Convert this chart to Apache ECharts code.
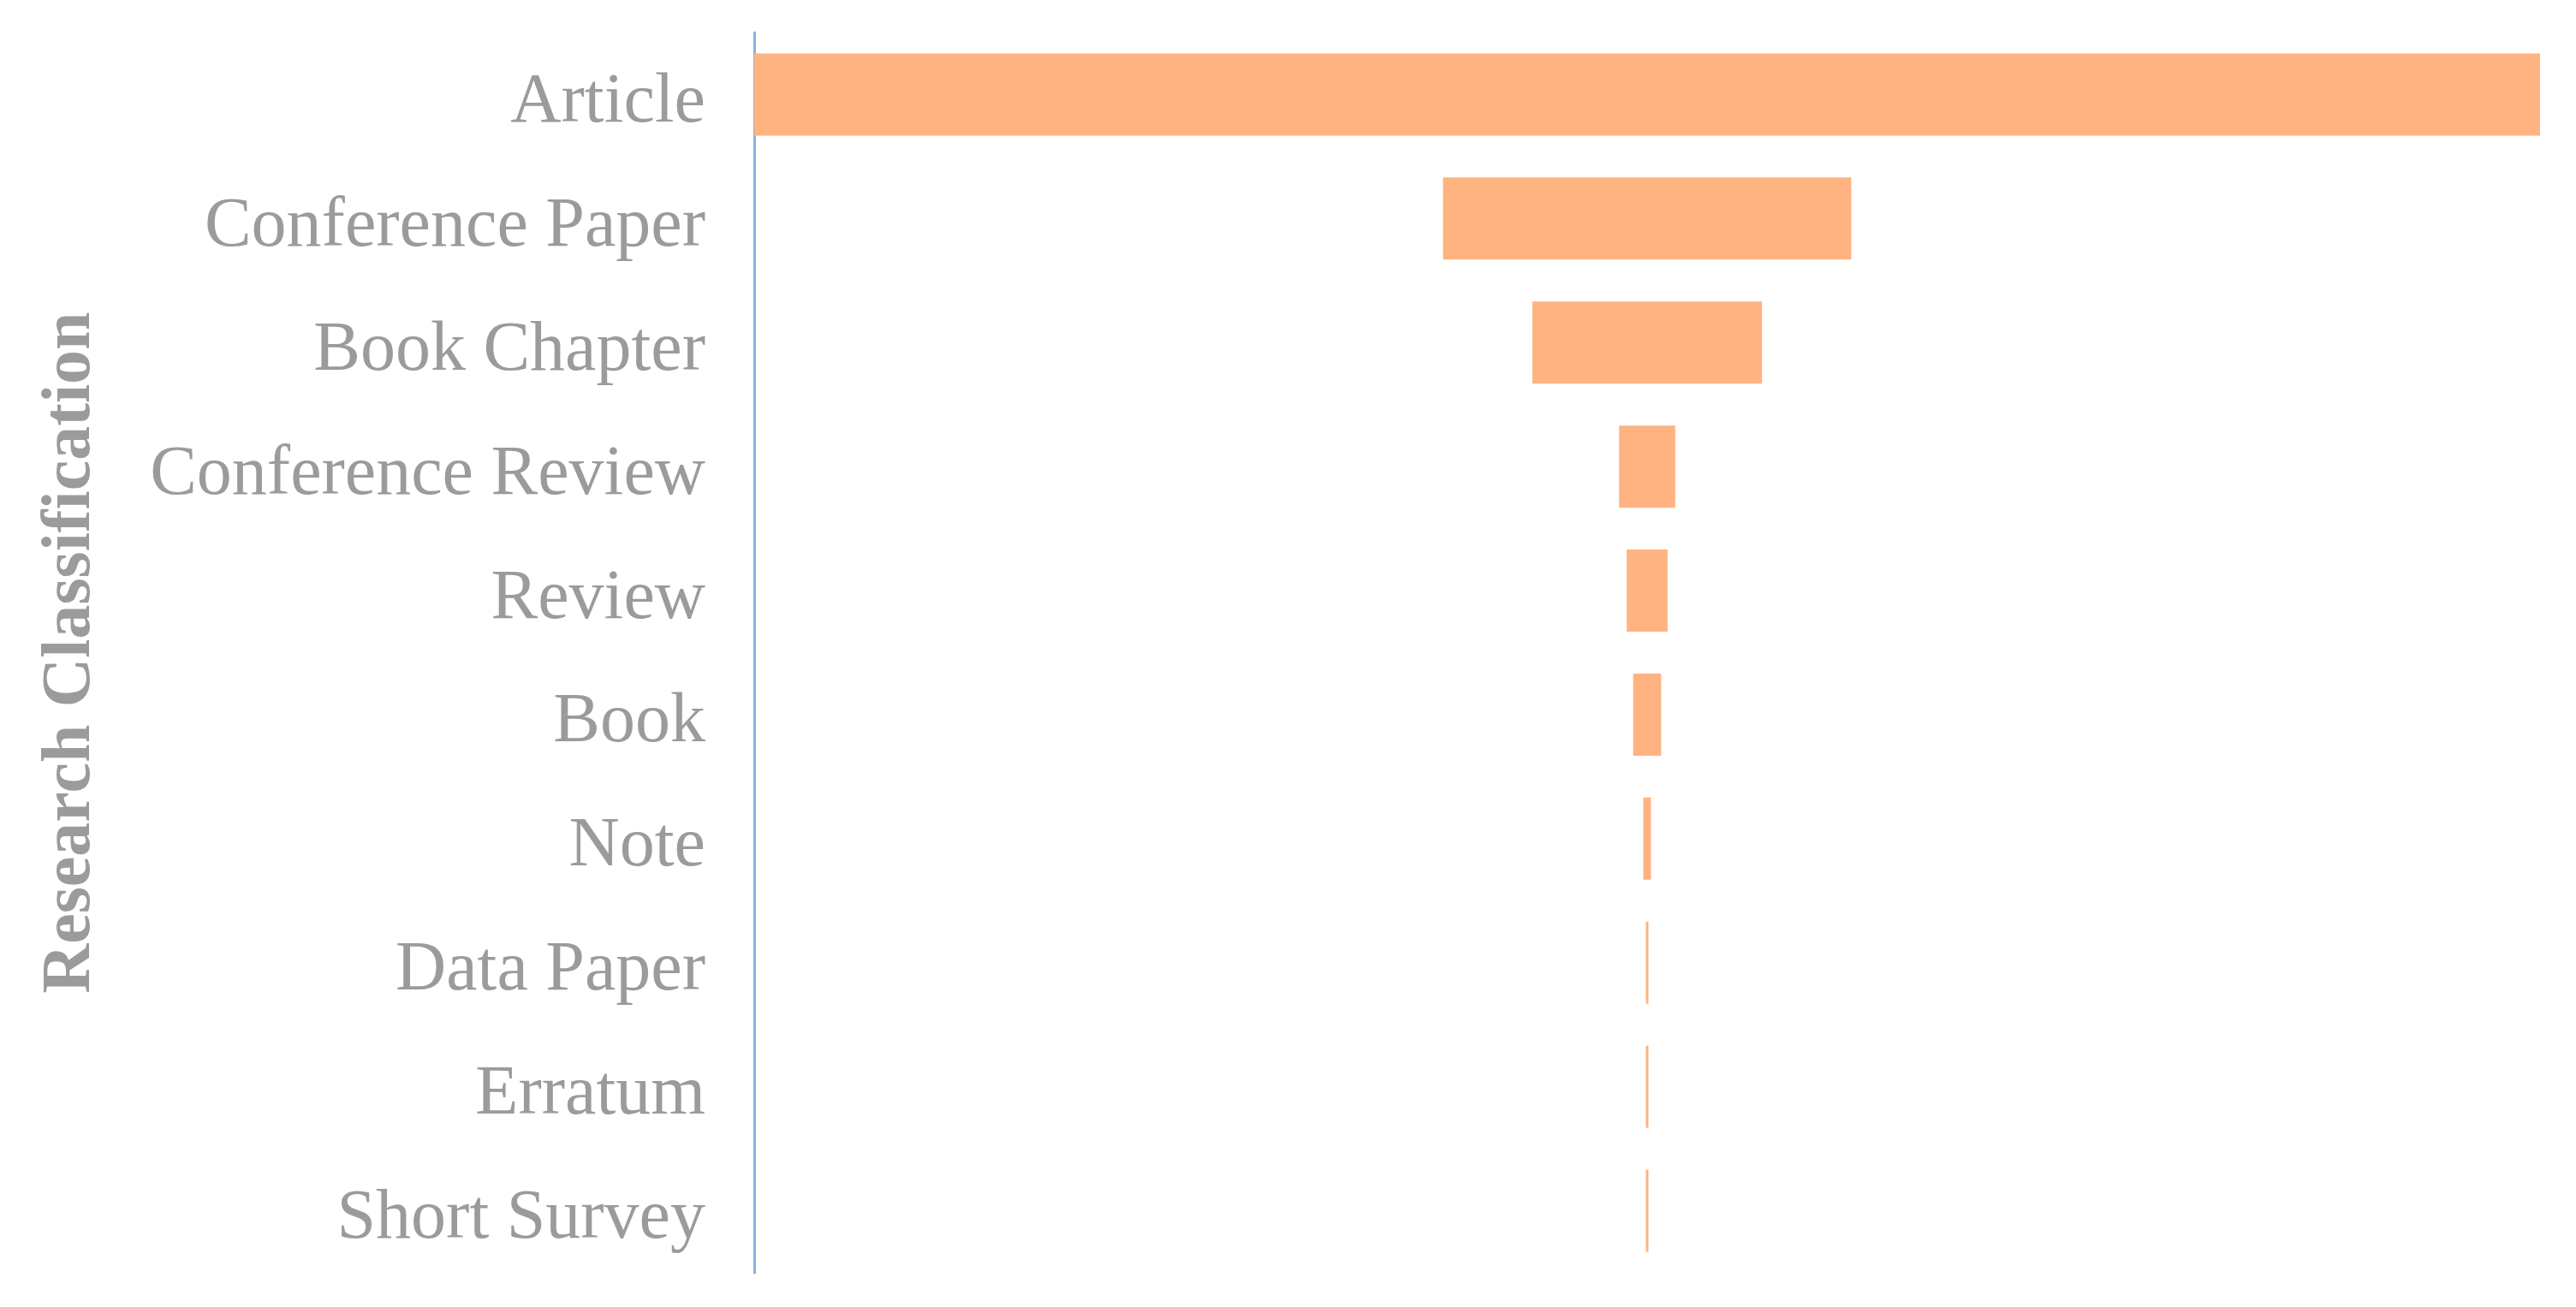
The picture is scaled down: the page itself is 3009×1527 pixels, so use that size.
<!DOCTYPE html>
<html>
<head>
<meta charset="utf-8">
<script src="https://cdn.jsdelivr.net/npm/echarts@6/dist/echarts.min.js"></script>
<style>
  html, body { margin: 0; padding: 0; background: #fff; }
  #chart { width: 3009px; height: 1527px; }
</style>
</head>
<body>
<div id="chart"></div>
<script>
// document types, top to bottom
const categories = ['Article', 'Conference Paper', 'Book Chapter', 'Conference Review', 'Review',
    'Book', 'Note', 'Data Paper', 'Erratum', 'Short Survey'];
// publication counts
const counts = [700, 160, 90, 22, 16, 11, 3, 1, 1, 1];

const barColor = '#ffb381';
const textColor = '#9b9b9b';
const fontFamily = '"Liberation Serif", "DejaVu Serif", serif';

const chart = echarts.init(document.getElementById('chart'));

// centre every bar: an invisible spacer takes half of what is left over
const maxCount = Math.max(...counts);
const spacer = counts.map(v => (maxCount - v) / 2);

chart.setOption({
    animation: false,
    grid: { left: 881, right: 42, top: 38, bottom: 40 },
    xAxis: {
        type: 'value',
        min: 0,
        max: maxCount,
        show: false
    },
    yAxis: {
        type: 'category',
        data: categories,
        inverse: true,
        axisLine: { onZero: false, lineStyle: { color: '#8ab0e2', width: 3 } },
        axisTick: { show: false },
        axisLabel: {
            margin: 57,
            formatter: v => '{l|' + v + '}',
            rich: {
                // text sits a little below the band centre in the original
                l: { color: textColor, fontSize: 82, fontFamily: fontFamily, padding: [20, 0, 0, 0] }
            }
        },
        name: 'Research Classification',
        nameLocation: 'middle',
        nameGap: 758,
        nameTextStyle: { color: textColor, fontSize: 80, fontWeight: 'bold', fontFamily: fontFamily }
    },
    series: [
        {
            type: 'bar', stack: 'funnel', barWidth: 96, silent: true,
            itemStyle: { color: 'transparent' },
            data: spacer
        },
        {
            type: 'bar', stack: 'funnel', barWidth: 96, silent: true,
            itemStyle: { color: barColor },
            data: counts
        }
    ]
});
</script>
</body>
</html>
